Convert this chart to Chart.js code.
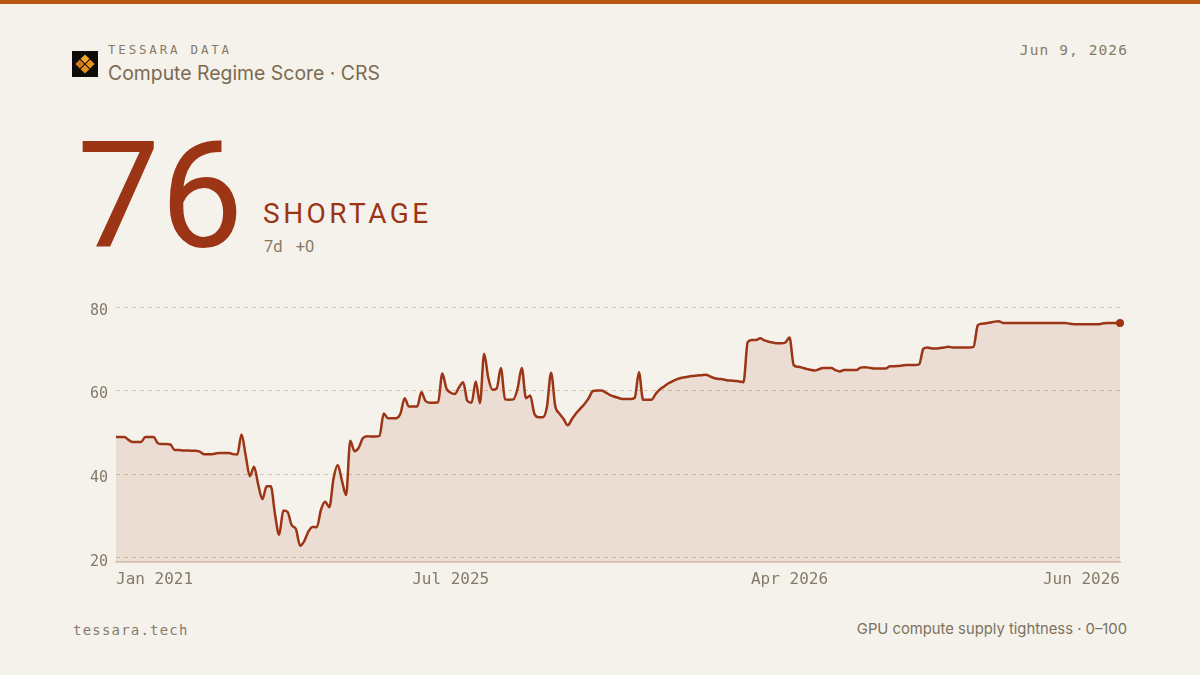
<!DOCTYPE html>
<html>
<head>
<meta charset="utf-8">
<script src="https://cdn.jsdelivr.net/npm/chart.js@4.4.0/dist/chart.umd.min.js"></script>
<style>
  html, body { margin: 0; padding: 0; }
  body { width: 1200px; height: 675px; background: #f5f2ec; position: relative; overflow: hidden; }
  .bar { position: absolute; left: 0; top: 0; width: 1200px; height: 4px; background: #b8560e; }
  .t { position: absolute; line-height: 1; white-space: nowrap; }
  .mono { font-family: 'DejaVu Sans Mono', monospace; }
  .brand { left: 108px; top: 43.5px; font-size: 12.5px; letter-spacing: 2.8px; color: #867b69; }
  .title { left: 108px; top: 64px; font-family: Inter, sans-serif; font-size: 19.4px; color: #7b6a4f; }
  .date { right: 72px; top: 42.7px; font-size: 14.5px; letter-spacing: 1.1px; color: #867b69; }
  .big { left: 77px; top: 123px; font-family: Roboto, sans-serif; font-size: 148px; color: #9c3515; }
  .state { left: 263px; top: 199.7px; font-family: Roboto, sans-serif; font-size: 28px; letter-spacing: 3.5px; color: #9c3515; }
  .delta { left: 264px; top: 238.8px; font-family: Roboto, sans-serif; font-size: 16.5px; word-spacing: 9px; color: #857a68; }
  .site { left: 73px; top: 622.5px; font-size: 14px; letter-spacing: 1.2px; color: #867b69; }
  .note { right: 73px; top: 621.5px; font-family: Inter, sans-serif; font-size: 14.8px; color: #7d715e; }
  .logo { position: absolute; left: 72px; top: 51px; }
  .wrap { position: absolute; left: 40px; top: 290px; width: 1100px; height: 320px; }
</style>
</head>
<body>
<div class="bar"></div>
<svg class="logo" width="26" height="26" viewBox="0 0 26 26">
  <rect width="26" height="26" fill="#0f0d0b"/>
  <g transform="rotate(45 13 13)">
    <rect x="6.2" y="6.2" width="6.3" height="6.3" fill="#f2a72a"/>
    <rect x="13.5" y="6.2" width="6.3" height="6.3" fill="#e8931f"/>
    <rect x="6.2" y="13.5" width="6.3" height="6.3" fill="#d4781b"/>
    <rect x="13.5" y="13.5" width="6.3" height="6.3" fill="#e48d20"/>
  </g>
</svg>
<div class="t mono brand">TESSARA DATA</div>
<div class="t title">Compute Regime Score · CRS</div>
<div class="t mono date">Jun 9, 2026</div>
<div class="t big">76</div>
<div class="t state">SHORTAGE</div>
<div class="t delta">7d +0</div>
<div class="wrap"><canvas id="crs-chart"></canvas></div>
<div class="t mono site">tessara.tech</div>
<div class="t note">GPU compute supply tightness · 0–100</div>

<script>
// CRS readings, oldest first
const scores = [
  48.9, 48.9, 48.9, 48.2, 47.7, 47.7, 47.7, 48.9, 48.9, 48.9,
  47.4, 47.2, 47.2, 47.1, 45.8, 45.8, 45.7, 45.7, 45.6, 45.6,
  45.4, 44.8, 44.8, 44.8, 45.0, 45.1, 45.1, 45.1, 44.8, 44.7,
  49.5, 44.5, 39.5, 41.8, 37.5, 34.0, 37.1, 37.1, 30.5, 25.5,
  31.3, 31.0, 27.8, 26.9, 22.9, 24.0, 26.3, 27.4, 27.3, 31.5,
  33.4, 32.1, 39.0, 42.2, 38.5, 35.0, 48.0, 45.5, 46.3, 48.6,
  49.1, 49.0, 49.0, 49.2, 54.5, 53.4, 53.4, 53.4, 54.5, 58.2,
  56.2, 56.2, 56.2, 59.6, 57.5, 57.1, 57.1, 57.2, 64.1, 60.5,
  59.5, 59.2, 60.8, 62.0, 57.5, 57.1, 62.2, 57.0, 68.8, 63.0,
  60.2, 60.5, 65.4, 57.9, 57.8, 57.9, 60.5, 65.4, 58.2, 58.8,
  54.5, 53.6, 53.6, 56.0, 64.3, 56.3, 54.5, 53.2, 51.7, 53.2,
  54.6, 55.7, 56.8, 58.2, 59.9, 60.0, 60.0, 59.6, 59.0, 58.6,
  58.3, 58.0, 58.0, 58.0, 58.3, 64.4, 57.8, 57.8, 57.8, 59.2,
  60.3, 61.0, 61.7, 62.2, 62.7, 63.0, 63.2, 63.4, 63.5, 63.6,
  63.7, 63.8, 63.4, 63.0, 62.8, 62.7, 62.5, 62.4, 62.3, 62.2,
  62.0, 71.6, 72.1, 72.1, 72.5, 72.0, 71.7, 71.5, 71.3, 71.3,
  71.5, 72.7, 66.1, 65.7, 65.5, 65.2, 65.0, 64.8, 65.1, 65.4,
  65.4, 65.4, 64.9, 64.6, 64.9, 64.9, 64.9, 64.9, 65.5, 65.6,
  65.5, 65.3, 65.3, 65.3, 65.3, 65.8, 65.8, 65.9, 66.0, 66.1,
  66.1, 66.1, 66.3, 70.0, 70.3, 70.1, 70.1, 70.2, 70.3, 70.5,
  70.3, 70.3, 70.3, 70.3, 70.3, 70.5, 75.6, 76.0, 76.1, 76.3,
  76.5, 76.6, 76.2, 76.2, 76.2, 76.2, 76.2, 76.2, 76.2, 76.2,
  76.2, 76.2, 76.2, 76.2, 76.2, 76.2, 76.2, 76.2, 76.0, 75.9,
  75.9, 75.9, 75.9, 75.9, 75.9, 75.9, 76.1, 76.2, 76.2, 76.2,
  76.2
]
const tickLabels = ['Jan 2021', 'Jul 2025', 'Apr 2026', 'Jun 2026']
const tickAt = [0, 80, 161, 240]
const yTicks = [20, 40, 60, 80]

const accent = '#9c3515'
const muted = '#857a68'
const categories = scores.map((_, i) => i)

new Chart(document.getElementById('crs-chart'), {
  type: 'line',
  data: {
    labels: categories,
    datasets: [
      {
        data: scores,
        borderColor: accent,
        borderWidth: 2.5,
        backgroundColor: 'rgba(156, 53, 21, 0.11)',
        fill: 'start',
        cubicInterpolationMode: 'monotone',
        pointRadius: (c) => (c.dataIndex === scores.length - 1 ? 4 : 0),
        pointBackgroundColor: accent,
        pointBorderWidth: 0,
        pointHoverRadius: 0,
        clip: false,
      },
    ],
  },
  options: {
    responsive: true,
    maintainAspectRatio: false,
    animation: false,
    layout: { padding: { top: 17, right: 20, bottom: 18, left: 0 } },
    scales: {
      x: {
        grid: { display: false, drawTicks: false },
        border: { display: true, color: '#dccdbb', width: 2 },
        afterFit: (s) => { s.height = 30 },
        afterBuildTicks: (s) => { s.ticks = tickAt.map((v) => ({ value: v })) },
        ticks: {
          autoSkip: false,
          maxRotation: 0,
          align: 'inner',
          padding: 8,
          color: muted,
          font: { family: "'DejaVu Sans Mono', monospace", size: 16 },
          callback: (v) => tickLabels[tickAt.indexOf(v)],
        },
      },
      y: {
        min: 19,
        max: 80,
        afterFit: (s) => { s.width = 76 },
        afterBuildTicks: (s) => { s.ticks = yTicks.map((v) => ({ value: v })) },
        grid: { color: '#d3c4a8', lineWidth: 1, drawTicks: false },
        border: { display: true, color: 'rgba(0,0,0,0)', width: 0, dash: [4, 4] },
        ticks: {
          padding: 8,
          labelOffset: 4,
          color: muted,
          font: { family: "'DejaVu Sans Mono', monospace", size: 15 },
        },
      },
    },
    plugins: {
      legend: { display: false },
      tooltip: { enabled: false },
    },
  },
})
</script>
</body>
</html>
